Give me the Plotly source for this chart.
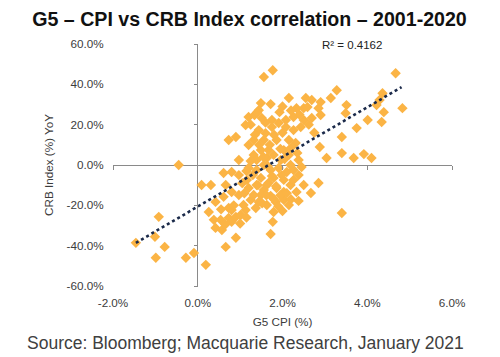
import plotly.graph_objects as go

# G5 CPI (% YoY) vs CRB Index (% YoY)
cpi = [
    -1.46, -0.92, -1.01, -0.78, -0.99, -0.28, -0.09, 0.19, -0.45,
    0.66, 0.90, 1.72, 1.77, 2.00, 3.40, 0.26, 0.38, 0.54, 0.73, 0.90,
    0.42, 0.57, 0.80, 1.01, 1.13, 1.37, 0.73, 0.42, 0.61, 0.09, 0.31,
    0.66, 1.84, 2.38, 2.67, 2.85, 1.08, 1.25, 1.44, 1.63, 2.03, 0.80,
    0.97, 0.80,
    1.20, 1.39, 1.56, 1.67, 1.86, 2.03, 2.19, 2.33, 1.49, 1.72, 0.80,
    0.61, 0.97, 1.20, 1.39, 1.56, 1.72, 1.91, 2.10, 2.26, 1.49, 1.79,
    2.03, 2.45, 2.38, 0.97, 1.32, 1.49, 1.63, 1.79, 1.96, 2.15, 1.32,
    1.44, 1.60, 1.75, 1.86, 2.03, 2.15, 2.31, 1.20, 0.73, 0.90, 1.13,
    1.20, 1.34, 1.51, 1.75, 1.91, 2.08, 2.26, 1.49, 1.72, 1.44, 1.93,
    2.08, 2.26, 2.43, 2.33, 2.50, 2.15, 2.69, 2.55, 2.59, 2.90, 3.14,
    3.28, 2.69, 2.50, 2.90, 2.85, 1.56, 1.77, 4.67, 4.83, 4.36, 4.29,
    4.22, 4.39, 4.34, 4.01, 3.51, 3.49, 3.75, 3.40, 2.88, 3.40, 3.04,
    3.68, 3.92, 4.10,
    1.39, 1.56, 1.67, 2.19, 1.98, 1.63, 1.32, 1.16, 2.15, 2.26, 1.79,
    2.50, 2.38,
    1.25, 1.35, 1.45, 1.55, 1.65, 1.75, 1.85, 1.95, 1.30, 1.42, 1.52,
    1.62, 1.80, 1.90, 2.10, 2.20, 1.10, 1.05, 1.15, 1.25, 1.70, 1.80,
    1.95, 2.05, 2.20, 2.35, 2.00, 1.60, 1.40, 2.20, 2.40, 2.00, 2.62,
    2.75, 0.55, 0.65, 0.85, 1.00, 1.15,
]
crb = [
    -38.6, -25.7, -35.6, -40.6, -46.0, -46.0, -43.6, -49.5, 0.0,
    -40.6, -36.1, -34.2, -28.2, -22.8, -23.8, -23.3, -27.2, -27.2, -26.2, -25.7,
    -31.2, -32.2, -28.2, -24.8, -22.3, -21.3, -21.3, -18.3, -15.8, -9.9, -9.9,
    -9.9, -18.3, -17.8, -13.9, -8.9, -19.8, -17.3, -18.3, -19.8, -17.3, -22.3,
    -14.9, -13.4,
    -11.4, -9.9, -12.4, -8.9, -11.4, -13.4, -9.9, -13.4, -14.9, -15.3, -3.5,
    -4.0, -5.0, -1.5, -2.5, 0.0, -2.5, -1.5, -3.5, -2.5, -6.4, -6.4,
    -7.4, -1.0, 2.5, 2.5, 5.0, 7.4, 3.5, 5.0, 2.5, 5.0, 12.4,
    17.3, 15.8, 18.8, 12.4, 7.4, 12.4, 10.9, 9.9, 12.4, 13.9, 19.8,
    23.8, 24.8, 23.3, 22.3, 20.8, 22.3, 23.8, 30.7, 30.2, 27.2, 26.2,
    18.8, 17.3, 18.8, 28.2, 28.2, 33.2, 32.2, 33.2, 28.7, 31.2, 33.2,
    37.1, 23.3, 22.3, 24.8, 28.2, 43.6, 47.0, 45.5, 28.2, 35.6, 32.2,
    29.7, 26.2, 21.3, 22.3, 29.7, 25.7, 18.3, 13.9, 8.9, 5.9, 3.5,
    3.5, 5.4, 3.5,
    2.5, 12.4, 7.4, 0.0, -5.0, -9.9, -14.9, -7.4, -19.8, -7.4, -23.3,
    -9.9, -5.0,
    20.0, 15.0, 10.0, 4.0, -0.5, -5.5, -10.5, -15.0, -5.0, -10.0, -19.0,
    -15.0, -17.0, -20.5, -14.0, -17.0, -14.0, -9.0, -3.0, 2.0, 10.0, 15.0,
    8.0, 3.0, 8.5, 6.0, 16.0, 21.0, 26.0, 27.0, 25.0, 29.0, 20.0,
    16.0, -22.0, -29.5, -20.0, -29.0, -26.0,
]

# linear trendline end points (Excel trendline)
trend_x = [-1.46, 4.81]
trend_y = [-38.6, 38.6]
r_squared = "R\u00b2 = 0.4162"

x_ticks = [-2, 0, 2, 4, 6]
x_tick_text = ["-2.0%", "0.0%", "2.0%", "4.0%", "6.0%"]
y_ticks = [-60, -40, -20, 0, 20, 40, 60]
y_tick_text = ["-60.0%", "-40.0%", "-20.0%", "0.0%", "20.0%", "40.0%", "60.0%"]

AX = "#8a8a8a"
TXT = "#3c3c3c"
FONT = "Liberation Sans, Arial, sans-serif"

# the page places the figure 8px in from the top-left corner
W, H = 492, 349

fig = go.Figure()
fig.add_trace(go.Scatter(
    x=cpi, y=crb, mode="markers",
    marker=dict(symbol="diamond", size=8, color="#FBB445", line=dict(width=0)),
    showlegend=False, hoverinfo="x+y",
))
fig.add_trace(go.Scatter(
    x=trend_x, y=trend_y, mode="lines",
    line=dict(color="#1B2A4A", width=2.6, dash="dot"),
    showlegend=False, hoverinfo="skip",
))
# helper trace for the crossing axes (tick marks on zero lines)
fig.add_trace(go.Scatter(x=[None], y=[None], xaxis="x2", yaxis="y2",
                         showlegend=False, hoverinfo="skip"))

fig.update_layout(
    width=W, height=H,
    margin=dict(l=105, r=48, t=36, b=71),
    paper_bgcolor="white", plot_bgcolor="white",
    font=dict(family=FONT, color=TXT, size=11.7),
    title=dict(
        text="<b>G5 \u2013 CPI vs CRB Index correlation \u2013 2001-2020</b>",
        x=241.5 / W, xref="container", xanchor="center",
        y=1 - 11 / H, yref="container", yanchor="middle",
        font=dict(family=FONT, size=19.6, color="#111111"),
    ),
    xaxis=dict(
        range=[-2, 6], tickmode="array", tickvals=x_ticks, ticktext=x_tick_text,
        showgrid=False, showline=False,
        zeroline=True, zerolinecolor=AX, zerolinewidth=1,
        ticks="outside", ticklen=6, tickcolor="rgba(0,0,0,0)",
        title=dict(text="G5 CPI (%)", standoff=9, font=dict(size=11.7)),
        fixedrange=True,
    ),
    yaxis=dict(
        range=[-60, 60], tickmode="array", tickvals=y_ticks, ticktext=y_tick_text,
        showgrid=False, showline=False,
        zeroline=True, zerolinecolor=AX, zerolinewidth=1,
        ticks="outside", ticklen=6, tickcolor="rgba(0,0,0,0)",
        title=dict(text="CRB Index (%) YoY", standoff=10, font=dict(size=11.7)),
        fixedrange=True,
    ),
    xaxis2=dict(
        overlaying="x", anchor="free", position=0.5, range=[-2, 6],
        tickmode="array", tickvals=x_ticks, showticklabels=False,
        ticks="outside", ticklen=4, tickcolor=AX,
        showgrid=False, zeroline=False, showline=False, fixedrange=True,
    ),
    yaxis2=dict(
        overlaying="y", anchor="free", position=0.25, side="left", range=[-60, 60],
        tickmode="array", tickvals=y_ticks, showticklabels=False,
        ticks="outside", ticklen=4, tickcolor=AX,
        showgrid=False, zeroline=False, showline=False, fixedrange=True,
    ),
    annotations=[
        dict(text=r_squared, xref="paper", yref="paper", x=0.705, y=0.996,
             xanchor="center", yanchor="middle", showarrow=False,
             font=dict(size=11.5, color="#222222")),
        dict(text="Source: Bloomberg; Macquarie Research, January 2021",
             xref="paper", yref="paper", x=0.392, y=(278 - 335) / 242,
             xanchor="center", yanchor="middle", showarrow=False,
             font=dict(size=17.5, color="#404040")),
    ],
)

fig.write_html("out.html")
